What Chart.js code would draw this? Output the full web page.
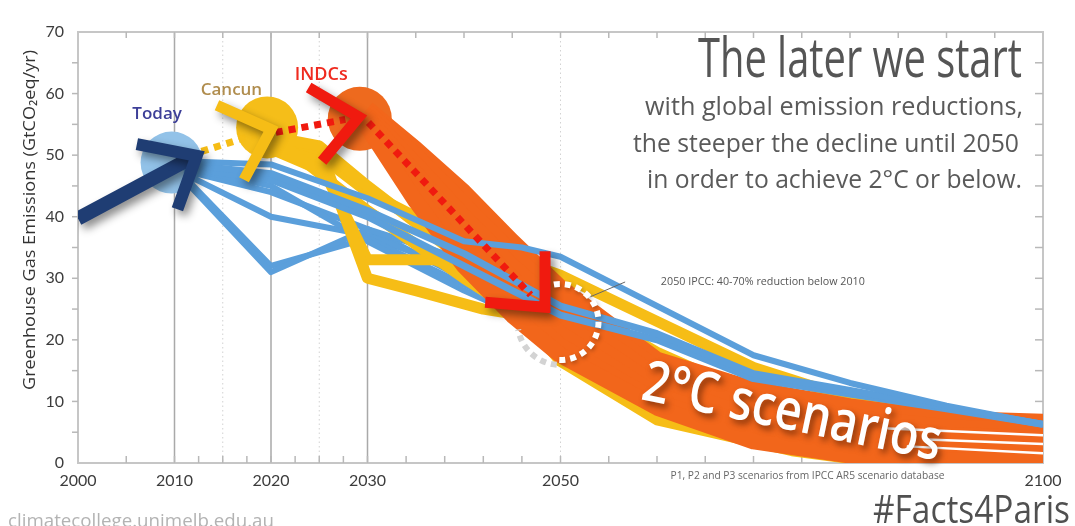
<!DOCTYPE html>
<html><head><meta charset="utf-8">
<script src="https://cdn.jsdelivr.net/npm/chart.js@4.4.1/dist/chart.umd.min.js"></script>
<style>html,body{margin:0;padding:0;background:#fff;overflow:hidden}#wrap{width:1075px;height:526px;position:relative}</style>
</head><body><div id="wrap"><canvas id="c"></canvas></div>
<script>
// ---------- data ----------
const xTickLabels = [2000, 2010, 2020, 2030, 2050, 2100];
const yMin = 0, yMax = 70, yStep = 10;

const blueYearsTop = [2011, 2020, 2030, 2040, 2046, 2050, 2060, 2070, 2080, 2090, 2100];
const blue1 = [49, 48.5, 43, 36, 35, 33.5, 25.5, 17.5, 13, 9.3, 6.3];
const blueYears = [2011, 2020, 2030, 2040, 2050, 2060, 2070, 2080, 2090, 2100];
const blue2 = [48.5, 47, 41, 34, 25.5, 21, 14.5, 11.8, 9, 6.3];
const blue3 = [48, 46, 40, 32, 24, 20, 13.7, 11.2, 8.8, 6.3];
const blue4 = [47.5, 44, 38, 30, 20, 15, 9, 6, 4.5, 4];
const blue5 = [47, 40, 37, 31, 18, 12, 6, 3.5, 2.5, 2];
const blue6 = [46.5, 32, 36.5, 29, 22, 14, 5, 2, 1, 0.5];
const blue7 = [46, 31, 38, 33, 25, 17, 10, 6, 3, 2];
const blue8 = [48, 45, 36, 28, 21, 13, 7, 4, 2, 1];

const yellowYearsA = [2020, 2025, 2030, 2040, 2050, 2060, 2070, 2080, 2086];
const yellow1 = [52, 50, 44, 36, 30.5, 23, 15.5, 10.5, 8.5];
const yellowYearsE = [2020, 2025, 2030, 2040, 2050, 2060, 2070, 2080, 2090, 2100];
const yellow4 = [53, 51.5, 45, 33, 27, 18, 11, 6, 3.5, 2];
const yellowYearsB = [2020, 2025, 2030, 2037, 2045, 2050, 2060, 2070, 2080, 2090, 2100];
const yellow2 = [51.5, 49, 33, 33, 28, 24, 15, 8, 4.5, 3, 2];
const yellowYearsC = [2020, 2026, 2030, 2035, 2042, 2046, 2050, 2060, 2074, 2082, 2090];
const yellow3 = [51, 47, 30, 28, 25, 24, 16.5, 7, 2, 0.3, 0];
const yellowYearsD = [2021, 2030, 2040, 2050, 2060, 2070, 2080, 2090];
const yellow5 = [52, 41, 30, 20, 10, 4, 1.5, 0.5];

const orangeYears = [2030, 2035, 2040, 2045, 2050, 2060, 2070, 2080, 2090, 2100];
const orange1 = [57.5, 51, 44, 36, 28.5, 16.8, 12, 9.2, 7.2, 6.7];
const orange2 = [57, 50, 42, 34, 27, 15.3, 10.5, 7.5, 5.8, 5.2];
const orange3 = [56.5, 48.5, 40, 32, 25, 14, 9, 6, 4.6, 4.0];
const orange4 = [56, 47, 38, 30, 23, 12.5, 7.5, 4.8, 3.5, 2.9];
const orange5 = [55.5, 45.5, 36, 28, 21, 11, 6, 3.6, 2.5, 1.9];
const orange6 = [55, 44, 34, 26, 19, 10, 4.5, 2.2, 1.4, 1.0];
const orange7 = [54.5, 42.5, 32, 24, 17.5, 9, 3.5, 1.2, 0.5, 0.3];

// thin white gaps between the orange scenario bundles near 2100
const gap1X = [2084, 2100], gap1Y = [5.6, 4.5];
const gap2X = [2088, 2100], gap2Y = [3.8, 3.1];
const gap3X = [2086, 2100], gap3Y = [2.7, 1.6];

const circleYears = [2009.7, 2019.6, 2029.2];
const circleValues = [48.8, 54.5, 55.9];

const dotYellowX = [2012.8, 2018.5], dotYellowY = [50.6, 53.4];
const dotRedX = [2020.5, 2027.7], dotRedY = [53.7, 55.8];
const dotRed2X = [2030.1, 2046.9], dotRed2Y = [55.3, 27.3];

const navyShaftX = [2000, 2011.8], navyShaftY = [39.7, 49.6];
const navyHeadX = [2006.1, 2012.3, 2010.3], navyHeadY = [51.8, 49.9, 41.2];
const yellowHeadX = [2014.4, 2020.0, 2017.2], yellowHeadY = [58.1, 54.2, 46.0];
const red1HeadX = [2023.9, 2029.1, 2025.3], red1HeadY = [61.0, 56.2, 49.0];
const red2HeadX = [2048.4, 2048.4, 2042.2], red2HeadY = [34.4, 25.3, 26.1];

// ---------- build ----------
const BLUE = '#5b9fdb', YEL = '#f6bd16', ORA = '#f2661b', RED = '#f01a0f', NAVY = '#1f3d73';
const pts = (xs, ys) => xs.map((x, i) => ({x, y: ys[i]}));
function line(xs, ys, color, width, extra) {
  return Object.assign({data: pts(xs, ys), showLine: true, borderColor: color, borderWidth: width,
    pointRadius: 0, fill: false, tension: 0, clip: 0, borderJoinStyle: 'round', borderCapStyle: 'butt'}, extra || {});
}
const arrowShadow = {color: 'rgba(0,0,0,0.45)', blur: 8, x: 4, y: 5};
const datasets = [
  {data: pts(circleYears, circleValues), showLine: false, pointRadius: [31, 31, 32], pointHoverRadius: [31,31,32],
   backgroundColor: ['#92c2e8', '#f5be19', '#ee6a1e'], borderWidth: 0, clip: 0},
  line(blueYears, blue4, BLUE, 6), line(blueYears, blue5, BLUE, 6),
  line(blueYears, blue6, BLUE, 6), line(blueYears, blue7, BLUE, 6), line(blueYears, blue8, BLUE, 6),
  line(yellowYearsA, yellow1, YEL, 11), line(yellowYearsE, yellow4, YEL, 11),
  line(yellowYearsB, yellow2, YEL, 11), line(yellowYearsC, yellow3, YEL, 11), line(yellowYearsD, yellow5, YEL, 11),
  line(orangeYears, orange1, ORA, 16), line(orangeYears, orange2, ORA, 16), line(orangeYears, orange3, ORA, 16),
  line(orangeYears, orange4, ORA, 16), line(orangeYears, orange5, ORA, 16), line(orangeYears, orange6, ORA, 16),
  line(orangeYears, orange7, ORA, 16),
  line(gap1X, gap1Y, '#ffffff', 2.5, {borderCapStyle: 'round'}),
  line(gap2X, gap2Y, '#ffffff', 2.5, {borderCapStyle: 'round'}),
  line(gap3X, gap3Y, '#ffffff', 2.5, {borderCapStyle: 'round'}),
  line(blueYears, blue3, BLUE, 7), line(blueYears, blue2, BLUE, 7), line(blueYearsTop, blue1, BLUE, 6),
  line(dotYellowX, dotYellowY, YEL, 7, {borderDash: [7, 6]}),
  line(dotRedX, dotRedY, RED, 7, {borderDash: [7, 6]}),
  line(dotRed2X, dotRed2Y, RED, 7, {borderDash: [7, 6]}),
  line(navyShaftX, navyShaftY, NAVY, 14, {shadow: arrowShadow}),
  line(navyHeadX, navyHeadY, NAVY, 12, {shadow: arrowShadow, borderJoinStyle: 'miter'}),
  line(yellowHeadX, yellowHeadY, YEL, 11, {shadow: arrowShadow, borderJoinStyle: 'miter'}),
  line(red1HeadX, red1HeadY, RED, 11, {shadow: arrowShadow, borderJoinStyle: 'miter'}),
  line(red2HeadX, red2HeadY, RED, 11, {shadow: arrowShadow, borderJoinStyle: 'miter'})
];
datasets.forEach((d, i) => { d.order = datasets.length - i; });

const FONT = '"Open Sans", "DejaVu Sans", sans-serif';
function fitText(ctx, text, x, y, font, width, align, color) {
  ctx.save();
  ctx.font = font; ctx.fillStyle = color; ctx.textBaseline = 'alphabetic'; ctx.textAlign = 'left';
  const w = ctx.measureText(text).width;
  const s = width / w;
  ctx.translate(x, y); ctx.scale(s, 1);
  const off = align === 'right' ? -w : (align === 'center' ? -w / 2 : 0);
  ctx.fillText(text, off, 0);
  ctx.restore();
}

const shadowPlugin = {
  id: 'shadowPlugin',
  beforeDatasetDraw(chart, args) {
    const d = chart.data.datasets[args.index];
    if (d.shadow) { const c = chart.ctx; c.save(); c.shadowColor = d.shadow.color; c.shadowBlur = d.shadow.blur; c.shadowOffsetX = d.shadow.x; c.shadowOffsetY = d.shadow.y; }
  },
  afterDatasetDraw(chart, args) { if (chart.data.datasets[args.index].shadow) chart.ctx.restore(); }
};

const framePlugin = {
  id: 'framePlugin',
  beforeDatasetsDraw(chart) {
    const c = chart.ctx, xs = chart.scales.x, ys = chart.scales.y;
    const {left, right, top, bottom} = chart.chartArea;
    c.save();
    c.strokeStyle = '#a9a9a9'; c.lineWidth = 1.5;
    [2010, 2020, 2030].forEach(v => { const p = xs.getPixelForValue(v); c.beginPath(); c.moveTo(p, top); c.lineTo(p, bottom); c.stroke(); });
    c.strokeStyle = '#d2d2d2'; c.lineWidth = 1; c.setLineDash([1.5, 3]);
    [2015, 2025, 2050].forEach(v => { const p = xs.getPixelForValue(v); c.beginPath(); c.moveTo(p, top); c.lineTo(p, bottom); c.stroke(); });
    c.setLineDash([]);
    c.strokeStyle = '#c6c6c6'; c.lineWidth = 2;
    c.strokeRect(left, top, right - left, bottom - top);
    c.strokeStyle = '#b8b8b8'; c.lineWidth = 1.5;
    const bt = [2005, 2010, 2012.5, 2015, 2017.5, 2020, 2022.5, 2025, 2027.5, 2030, 2034, 2038, 2042, 2046, 2050];
    for (let v = 2055; v < 2100; v += 5) bt.push(v);
    bt.forEach(v => { const p = xs.getPixelForValue(v); c.beginPath(); c.moveTo(p, bottom); c.lineTo(p, bottom - 7); c.stroke(); });
    for (let v = 2005; v < 2100; v += 5) { const p = xs.getPixelForValue(v); c.beginPath(); c.moveTo(p, top); c.lineTo(p, top + 6); c.stroke(); }
    for (let v = 5; v < 70; v += 5) {
      const p = ys.getPixelForValue(v);
      c.beginPath(); c.moveTo(right, p); c.lineTo(right - 8, p); c.stroke();
      c.beginPath(); c.moveTo(left, p); c.lineTo(left - 6, p); c.stroke();
    }
    c.restore();
  }
};

const overlayPlugin = {
  id: 'overlayPlugin',
  afterDatasetsDraw(chart) {
    const c = chart.ctx, xs = chart.scales.x, ys = chart.scales.y;
    const cx = xs.getPixelForValue(2050), cy = ys.getPixelForValue(22.9);
    const d = Math.PI / 180;
    c.save();
    c.lineWidth = 6; c.setLineDash([6, 5]);
    c.strokeStyle = '#d3d3d3';
    c.beginPath(); c.arc(cx, cy, 43, 95 * d, 170 * d); c.stroke();
    c.shadowColor = 'rgba(0,0,0,0.3)'; c.shadowBlur = 4; c.shadowOffsetX = 1; c.shadowOffsetY = 2;
    c.strokeStyle = '#ffffff';
    c.beginPath(); c.arc(cx, cy, 38, -100 * d, 95 * d); c.stroke();
    c.restore();
    c.save(); c.strokeStyle = '#666'; c.lineWidth = 1;
    c.beginPath(); c.moveTo(xs.getPixelForValue(2053.1), ys.getPixelForValue(27.0));
    c.lineTo(xs.getPixelForValue(2056.7), ys.getPixelForValue(29.4)); c.stroke(); c.restore();
  },
  afterDraw(chart) {
    const c = chart.ctx, xs = chart.scales.x, ys = chart.scales.y;
    const X = v => xs.getPixelForValue(v), Y = v => ys.getPixelForValue(v);
    c.save(); c.textAlign = 'center'; c.textBaseline = 'middle';
    c.font = '600 17px ' + FONT;
    c.fillStyle = '#3d3f98'; c.fillText('Today', X(2008.2), Y(56.6));
    c.fillStyle = '#b08d4e'; c.fillText('Cancun', X(2015.9), Y(60.5));
    c.font = '600 18px ' + FONT;
    c.fillStyle = '#ef2a1f'; c.fillText('INDCs', X(2025.2), Y(63.0));
    c.restore();
    c.save();
    c.translate(X(2058.2), Y(10.4)); c.rotate(11.7 * Math.PI / 180);
    c.shadowColor = 'rgba(60,20,0,0.6)'; c.shadowBlur = 6; c.shadowOffsetX = 3; c.shadowOffsetY = 4;
    fitText(c, '2°C scenarios', 0, 0, '600 57px ' + FONT, 304, 'left', '#ffffff');
    c.restore();
    fitText(c, '2050 IPCC: 40-70% reduction below 2010', X(2060.4), Y(29.4) + 3, '400 10px ' + FONT, 204, 'left', '#555');
    fitText(c, 'P1, P2 and P3 scenarios from IPCC AR5 scenario database', X(2061.4), 479, '400 10px ' + FONT, 274, 'left', '#666');
    fitText(c, 'The later we start', 1022, 77, '400 55px ' + FONT, 324, 'right', '#555');
    fitText(c, 'with global emission reductions,', 1023, 115, '400 25px ' + FONT, 378, 'right', '#5a5a5a');
    fitText(c, 'the steeper the decline until 2050', 1019, 152, '400 25px ' + FONT, 386, 'right', '#5a5a5a');
    fitText(c, 'in order to achieve 2°C or below.', 1022, 188, '400 25px ' + FONT, 375, 'right', '#5a5a5a');
    fitText(c, '#Facts4Paris', 1070, 523, '400 39px ' + FONT, 197, 'right', '#505050');
    fitText(c, 'climatecollege.unimelb.edu.au', 8, 527, '400 19px ' + FONT, 266, 'left', '#b3b3b3');
    c.save(); c.translate(30, 220); c.rotate(-Math.PI / 2);
    fitText(c, 'Greenhouse Gas Emissions (GtCO₂eq/yr)', 0, 5, '400 16px ' + FONT, 340, 'center', '#333');
    c.restore();
  }
};

new Chart(document.getElementById('c'), {
  type: 'scatter',
  data: {datasets},
  options: {
    animation: false, responsive: true, maintainAspectRatio: false, devicePixelRatio: 1,
    layout: {padding: {left: 0, right: 27, top: 20, bottom: 0}},
    plugins: {legend: {display: false}, tooltip: {enabled: false}},
    events: [],
    scales: {
      x: {type: 'linear', min: 2000, max: 2100,
        grid: {display: false, drawTicks: false}, border: {display: false},
        afterBuildTicks: s => { s.ticks = xTickLabels.map(v => ({value: v})); },
        afterFit: s => { s.height = 63; },
        ticks: {autoSkip: false, maxRotation: 0, minRotation: 0, padding: 8, color: '#3c3c3c',
          font: {family: 'Lato', size: 16}, callback: v => String(v)}},
      y: {type: 'linear', min: yMin, max: yMax,
        grid: {display: false, drawTicks: false}, border: {display: false},
        afterFit: s => { s.width = 78; },
        ticks: {stepSize: yStep, padding: 14, color: '#3c3c3c', font: {family: 'Lato', size: 16}}}
    }
  },
  plugins: [framePlugin, shadowPlugin, overlayPlugin]
});
</script></body></html>
